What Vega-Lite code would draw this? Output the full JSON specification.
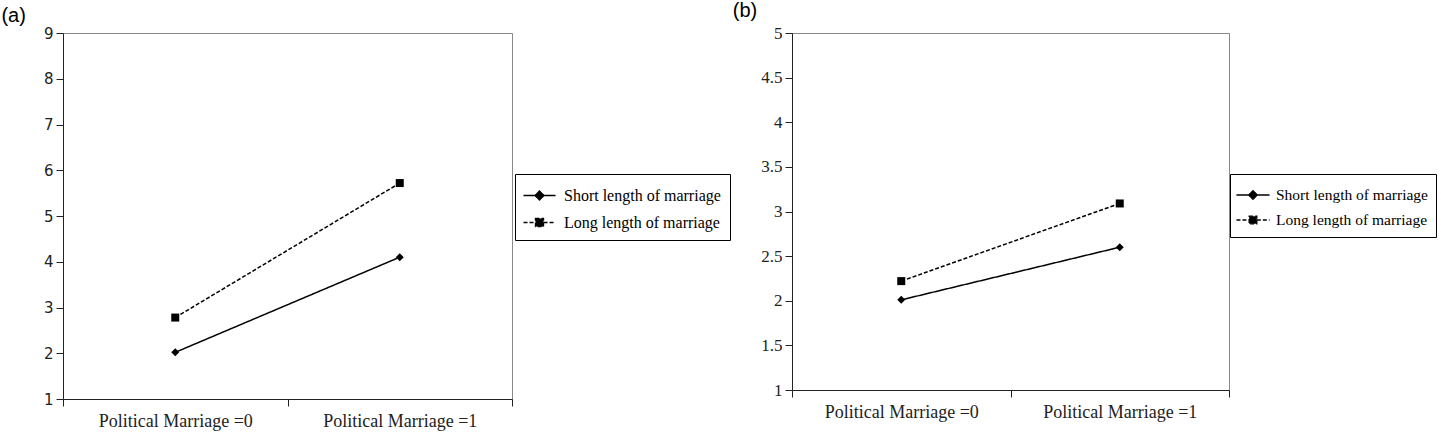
{
  "$schema": "https://vega.github.io/schema/vega-lite/v6.json",
  "padding": 0,
  "background": "white",
  "config": {
    "view": {"stroke": "#888888", "strokeWidth": 1},
    "concat": {"spacing": 1},
    "axis": {"grid": false, "domainColor": "#222222", "tickColor": "#222222", "labelColor": "#222222", "title": null}
  },
  "resolve": {"scale": {"strokeDash": "independent"}, "legend": {"strokeDash": "independent"}},
  "datasets": {
    "d": [
      {"panel": "a", "pm": "Political Marriage =0", "group": "Short length of marriage", "value": 2.02},
      {"panel": "a", "pm": "Political Marriage =1", "group": "Short length of marriage", "value": 4.1},
      {"panel": "a", "pm": "Political Marriage =0", "group": "Long length of marriage", "value": 2.78},
      {"panel": "a", "pm": "Political Marriage =1", "group": "Long length of marriage", "value": 5.72},
      {"panel": "b", "pm": "Political Marriage =0", "group": "Short length of marriage", "value": 2.01},
      {"panel": "b", "pm": "Political Marriage =1", "group": "Short length of marriage", "value": 2.6},
      {"panel": "b", "pm": "Political Marriage =0", "group": "Long length of marriage", "value": 2.22},
      {"panel": "b", "pm": "Political Marriage =1", "group": "Long length of marriage", "value": 3.09}
    ]
  },
  "hconcat": [
    {
      "width": 449,
      "height": 366,
      "title": {"text": "(a)", "font": "Liberation Sans", "fontSize": 20, "fontWeight": "normal", "color": "#000000", "anchor": "start", "frame": "bounds", "dx": -42, "offset": 0},
      "data": {"name": "d"},
      "transform": [{"filter": "datum.panel === 'a'"}],
      "encoding": {
        "x": {"field": "pm", "type": "nominal", "bandPosition": 0.5,
          "scale": {"type": "band", "paddingInner": 0, "paddingOuter": 0},
          "axis": {"labelAngle": 0, "tickBand": "extent", "tickSize": 7, "labelFont": "Liberation Serif", "labelFontSize": 18, "labelPadding": 6, "labelColor": "#222222"}},
        "y": {"field": "value", "type": "quantitative",
          "scale": {"domain": [1, 9], "nice": false},
          "axis": {"values": [1, 2, 3, 4, 5, 6, 7, 8, 9], "tickSize": 7, "labelFont": "DejaVu Sans", "labelFontSize": 15, "labelPadding": 3}}
      },
      "layer": [
        {
          "mark": {"type": "line", "color": "#000000", "strokeWidth": 1.5},
          "encoding": {
            "strokeDash": {"field": "group", "type": "nominal",
              "scale": {"domain": ["Short length of marriage", "Long length of marriage"], "range": [[1, 0], [4, 2]]},
              "legend": {"title": null, "orient": "none", "legendX": 452, "legendY": 141,
                "strokeColor": "#000000", "fillColor": "#ffffff", "padding": 9, "rowPadding": 6,
                "labelFont": "Liberation Serif", "labelFontSize": 16, "labelColor": "#000000", "labelOffset": 12, "labelLimit": 400,
                "symbolSize": 529, "symbolOffset": 3, "symbolStrokeWidth": 1.3, "symbolStrokeColor": "#000000", "symbolFillColor": "#000000",
                "encode": {"symbols": {"update": {
                  "shape": {"signal": "datum.value === 'Short length of marriage' ? 'M-1.39,0H1.39M0,-0.39L0.39,0L0,0.39L-0.39,0Z' : 'M-1.39,0H-0.35M0.35,0H1.39M-0.35,-0.35H0.35V0.35H-0.35Z'"},
                  "fill": {"value": "#000000"}, "stroke": {"value": "#000000"}}}}}}
          }
        },
        {
          "transform": [{"filter": "datum.group === 'Short length of marriage'"}],
          "mark": {"type": "point", "shape": "diamond", "filled": true, "color": "#000000", "opacity": 1, "size": 64}
        },
        {
          "transform": [{"filter": "datum.group === 'Long length of marriage'"}],
          "mark": {"type": "point", "shape": "square", "filled": true, "color": "#000000", "opacity": 1, "size": 64}
        }
      ]
    },
    {
      "width": 437,
      "height": 357,
      "title": {"text": "(b)", "font": "Liberation Sans", "fontSize": 20, "fontWeight": "normal", "color": "#000000", "anchor": "start", "frame": "bounds", "dx": -28, "offset": 3},
      "data": {"name": "d"},
      "transform": [{"filter": "datum.panel === 'b'"}],
      "encoding": {
        "x": {"field": "pm", "type": "nominal", "bandPosition": 0.5,
          "scale": {"type": "band", "paddingInner": 0, "paddingOuter": 0},
          "axis": {"labelAngle": 0, "tickBand": "extent", "tickSize": 7, "labelFont": "Liberation Serif", "labelFontSize": 18, "labelPadding": 6, "labelColor": "#222222"}},
        "y": {"field": "value", "type": "quantitative",
          "scale": {"domain": [1, 5], "nice": false},
          "axis": {"values": [1, 1.5, 2, 2.5, 3, 3.5, 4, 4.5, 5], "format": "~g", "tickSize": 7, "labelFont": "Liberation Serif", "labelFontSize": 17, "labelPadding": 3}}
      },
      "layer": [
        {
          "mark": {"type": "line", "color": "#000000", "strokeWidth": 1.5},
          "encoding": {
            "strokeDash": {"field": "group", "type": "nominal",
              "scale": {"domain": ["Short length of marriage", "Long length of marriage"], "range": [[1, 0], [4, 2]]},
              "legend": {"title": null, "orient": "none", "legendX": 438, "legendY": 141,
                "strokeColor": "#000000", "fillColor": "#ffffff", "padding": 8, "rowPadding": 3,
                "labelFont": "Liberation Serif", "labelFontSize": 15.5, "labelColor": "#000000", "labelOffset": 10, "labelLimit": 400,
                "symbolSize": 576, "symbolOffset": 2, "symbolStrokeWidth": 1.3, "symbolStrokeColor": "#000000", "symbolFillColor": "#000000",
                "encode": {"symbols": {"update": {
                  "shape": {"signal": "datum.value === 'Short length of marriage' ? 'M-1.38,0H1.38M0,-0.36L0.36,0L0,0.36L-0.36,0Z' : 'M-1.38,0H-0.32M0.32,0H1.38M-0.32,-0.32H0.32V0.32H-0.32Z'"},
                  "fill": {"value": "#000000"}, "stroke": {"value": "#000000"}}}}}}
          }
        },
        {
          "transform": [{"filter": "datum.group === 'Short length of marriage'"}],
          "mark": {"type": "point", "shape": "diamond", "filled": true, "color": "#000000", "opacity": 1, "size": 64}
        },
        {
          "transform": [{"filter": "datum.group === 'Long length of marriage'"}],
          "mark": {"type": "point", "shape": "square", "filled": true, "color": "#000000", "opacity": 1, "size": 64}
        }
      ]
    }
  ]
}
